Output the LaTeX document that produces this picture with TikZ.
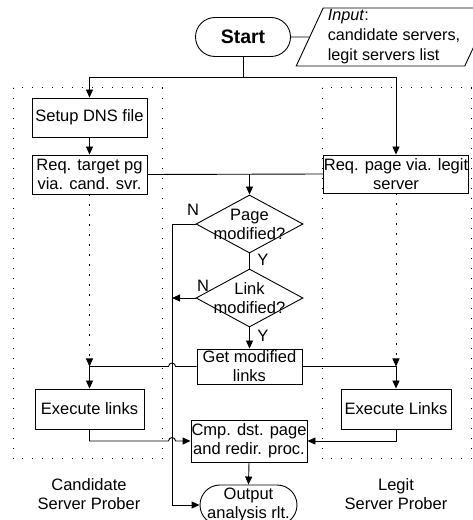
\documentclass[tikz,border=0pt]{standalone}
\usepackage{fontspec}
\setmainfont{Liberation Sans}
\usetikzlibrary{arrows.meta,positioning,shapes.geometric,shapes.misc,calc}

\begin{document}
\begin{tikzpicture}[x=1pt,y=1pt,font=\fontsize{16.5}{19}\selectfont,
  line width=0.9pt,>={Triangle[length=8pt,width=7pt]},
  box/.style={draw,rectangle,inner sep=0pt,align=center},
  term/.style={draw,rounded rectangle,inner sep=0pt,minimum width=95,minimum height=39},
  decision/.style={draw,diamond,inner sep=0pt,minimum width=107,minimum height=58},
  inbox/.style={draw,trapezium,trapezium left angle=65,trapezium right angle=115,
    inner xsep=0.5pt,inner ysep=0pt,minimum height=58,align=left,
    font=\fontsize{16.2}{20}\selectfont},
  lane/.style={line width=1pt,dash pattern=on 1.2pt off 8.8pt},
  dotarr/.style={->,dash pattern=on 1.2pt off 8.8pt},
  yn/.style={inner sep=1pt}]
  \useasboundingbox (0,0) rectangle (472,520);

  % prober lanes
  \draw[lane] (13,432) rectangle (162,61);
  \draw[lane] (322,432) rectangle (471,61);

  \node[term,font=\fontsize{19.5}{22}\selectfont] (start) at (243,483) {\textbf{Start}};
  \node[inbox] (input) at (394,483) {\textit{Input}:\\candidate servers,\\legit servers list};

  \node[box,minimum width=115,minimum height=39] (setup) at (89.5,402.5) {Setup DNS file};
  \node[box,minimum width=115,minimum height=39] (reqcand) at (89.5,345.5) {Req. target pg\\via. cand. svr.};
  \node[box,minimum width=144,minimum height=38] (reqlegit) at (396,346) {Req. page via. legit\\server};

  \node[decision,label={[align=center]center:Page\\modified?}] (page) at (249.5,296) {};
  \node[decision,label={[align=center]center:Link\\modified?}] (link) at (249.5,222) {};
  \node[box,minimum width=105,minimum height=35] (getmod) at (249.5,153.5) {Get modified\\links};

  \node[box,minimum width=109,minimum height=40] (execL) at (89.5,111) {Execute links};
  \node[box,minimum width=110,minimum height=40] (execR) at (396,111) {Execute Links};
  \node[box,minimum width=116,minimum height=42] (cmp) at (249,79) {Cmp. dst. page\\and redir. proc.};
  \node[term,minimum width=97,minimum height=40,
    label={[align=center]center:Output\\analysis rlt.}] (out) at (248.5,15) {};

  \node[align=center] (candlbl) at (89,26) {Candidate\\Server Prober};
  \node[align=center] (legitlbl) at (396,26) {Legit\\Server Prober};

  \node[yn] (n1) at (193,310) {N};
  \node[yn] (y1) at (263,260) {Y};
  \node[yn] (n2) at (203,234) {N};
  \node[yn] (y2) at (263,184) {Y};

  % top
  \draw (start.east) -- (input.west);
  \draw (start.south) -- ++(0,-21) coordinate (split);
  \draw[->] (split) -| (setup.north);
  \draw[->] (split) -| (reqlegit.north);
  \draw[->] (setup) -- (reqcand);
  \draw (reqcand.east) -- (reqlegit.west);
  \draw[->] (reqcand.east -| page.north) -- (page.north);

  % decisions
  \draw[->] (page.west) -- ++(-23.5,0) coordinate (bus) |- (out.west);
  \draw (page.south) -- (link.north);
  \draw[->] (link.west) -- (link.west -| bus);
  \draw[->] (link.south) -- (getmod.north);

  % modified links to both probers
  \draw[->] (getmod.west) -- ($(getmod.west -| bus)+(3.5,0)$)
    arc[start angle=0,end angle=180,radius=3.5] -- (getmod.west -| setup.south) -- (execL.north);
  \draw[->] (getmod.east) -- (getmod.east -| execR.north) -- (execR.north);
  \draw[dotarr] (reqcand.south) -- (getmod.west -| reqcand.south);
  \draw[dotarr] (reqlegit.south) -- (getmod.east -| reqlegit.south);

  % compare
  \draw[->] (execL.south) |- ($(cmp.west -| bus)-(3.5,0)$)
    arc[start angle=180,end angle=0,radius=3.5] -- (cmp.west);
  \draw[->] (execR.south) |- (cmp.east);
  \draw[->] (cmp.south) -- (out.north);
\end{tikzpicture}
\end{document}
